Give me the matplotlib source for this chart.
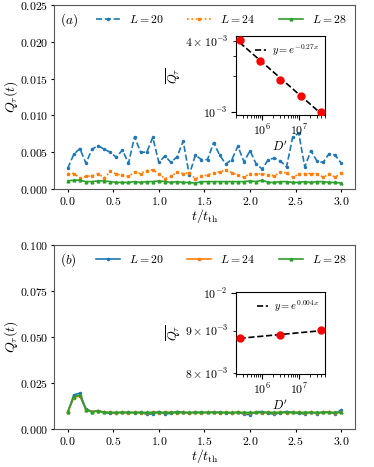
import numpy as np
import matplotlib
matplotlib.use("Agg")
import matplotlib.pyplot as plt
from matplotlib.ticker import FuncFormatter, LogFormatterSciNotation

plt.rcParams.update({
    "font.family": "serif",
    "font.serif": ["cmr10", "DejaVu Serif"],
    "mathtext.fontset": "cm",
    "axes.formatter.use_mathtext": True,
    "axes.unicode_minus": False,
    "font.size": 8.5,
})

# time grid t/t_th
t = np.linspace(0, 3, 46)

# panel (a) Q_tau(t)
qa_20 = [0.0028, 0.0047, 0.0055, 0.0035, 0.0054, 0.0059, 0.0054, 0.0050, 0.0043, 0.0053,
         0.0035, 0.0071, 0.0050, 0.0050, 0.0070, 0.0036, 0.0045, 0.0036, 0.0044, 0.0065,
         0.0019, 0.0046, 0.0040, 0.0040, 0.0063, 0.0046, 0.0034, 0.0040, 0.0058, 0.0037,
         0.0052, 0.0034, 0.0027, 0.0040, 0.0042, 0.0038, 0.0030, 0.0070, 0.0076, 0.0030,
         0.0052, 0.0038, 0.0036, 0.0048, 0.0046, 0.0035]
qa_24 = [0.0021, 0.0021, 0.0015, 0.0017, 0.0018, 0.0021, 0.0015, 0.0024, 0.0020, 0.0019,
         0.0017, 0.0023, 0.0021, 0.0025, 0.0026, 0.0021, 0.0014, 0.0017, 0.0023, 0.0021,
         0.0022, 0.0014, 0.0017, 0.0019, 0.0022, 0.0023, 0.0026, 0.0022, 0.0019, 0.0016,
         0.0021, 0.0020, 0.0021, 0.0019, 0.0018, 0.0023, 0.0022, 0.0016, 0.0020, 0.0021,
         0.0021, 0.0021, 0.0016, 0.0020, 0.0016, 0.0022]
qa_28 = [0.0011, 0.0012, 0.0012, 0.0010, 0.0010, 0.0011, 0.0011, 0.0010, 0.0009, 0.0009,
         0.0009, 0.0010, 0.0009, 0.0010, 0.0010, 0.0011, 0.0010, 0.0009, 0.0010, 0.0009,
         0.0009, 0.0008, 0.0010, 0.0010, 0.0010, 0.0010, 0.0010, 0.0010, 0.0010, 0.0010,
         0.0011, 0.0010, 0.0012, 0.0009, 0.0009, 0.0010, 0.0010, 0.0009, 0.0009, 0.0010,
         0.0009, 0.0010, 0.0010, 0.0009, 0.0009, 0.0008]

# panel (b) Q_tau(t)
qb_20 = [0.0090, 0.0185, 0.0195, 0.0110, 0.0095, 0.0100, 0.0090, 0.0085, 0.0088, 0.0090,
         0.0090, 0.0088, 0.0090, 0.0080, 0.0082, 0.0095, 0.0082, 0.0085, 0.0095, 0.0090,
         0.0088, 0.0090, 0.0090, 0.0090, 0.0092, 0.0090, 0.0088, 0.0085, 0.0093, 0.0080,
         0.0078, 0.0093, 0.0095, 0.0085, 0.0080, 0.0088, 0.0095, 0.0090, 0.0085, 0.0082,
         0.0092, 0.0083, 0.0093, 0.0092, 0.0082, 0.0105]
qb_24 = [0.0090, 0.0170, 0.0180, 0.0105, 0.0095, 0.0098, 0.0092, 0.0090, 0.0088, 0.0090,
         0.0088, 0.0090, 0.0088, 0.0088, 0.0090, 0.0088, 0.0090, 0.0090, 0.0088, 0.0090,
         0.0087, 0.0090, 0.0088, 0.0090, 0.0090, 0.0088, 0.0090, 0.0088, 0.0090, 0.0088,
         0.0086, 0.0090, 0.0088, 0.0090, 0.0088, 0.0090, 0.0088, 0.0090, 0.0090, 0.0088,
         0.0090, 0.0088, 0.0090, 0.0090, 0.0088, 0.0090]
qb_28 = [0.0090, 0.0175, 0.0185, 0.0105, 0.0092, 0.0098, 0.0090, 0.0090, 0.0090, 0.0090,
         0.0090, 0.0090, 0.0090, 0.0090, 0.0090, 0.0090, 0.0090, 0.0090, 0.0090, 0.0090,
         0.0090, 0.0090, 0.0090, 0.0090, 0.0090, 0.0090, 0.0090, 0.0090, 0.0090, 0.0090,
         0.0090, 0.0090, 0.0090, 0.0090, 0.0090, 0.0090, 0.0090, 0.0090, 0.0090, 0.0090,
         0.0090, 0.0090, 0.0090, 0.0090, 0.0090, 0.0090]

# insets: time-averaged Q_tau vs D'
dim_a = [2.5e5, 8.8e5, 3.0e6, 1.1e7, 4.0e7]
qbar_a = [4.05e-3, 2.68e-3, 1.88e-3, 1.36e-3, 1.00e-3]
dim_b = [2.5e5, 3.0e6, 4.0e7]
qbar_b = [8.82e-3, 8.88e-3, 9.01e-3]

labels = [r"$L=20$", r"$L=24$", r"$L=28$"]
colors = ["tab:blue", "tab:orange", "tab:green"]

fig = plt.figure(figsize=(3.74, 4.67), dpi=100)
ax_a = fig.add_axes([0.1444, 0.5953, 0.8046, 0.394])
ax_b = fig.add_axes([0.1444, 0.0814, 0.8046, 0.394])

styles_a = [("--", ".", 3.0), (":", "s", 1.8), ("-", "^", 2.0)]
for q, lab, c, (ls, mk, ms) in zip([qa_20, qa_24, qa_28], labels, colors, styles_a):
    ax_a.plot(t, q, ls=ls, marker=mk, ms=ms, color=c, lw=1.2, label=lab)
for q, lab, c, (_, mk, ms) in zip([qb_20, qb_24, qb_28], labels, colors, styles_a):
    ax_b.plot(t, q, ls="-", marker=mk, ms=ms, color=c, lw=1.2, label=lab)

ax_a.set_ylim(0, 0.025)
ax_a.set_yticks([0, 0.005, 0.010, 0.015, 0.020, 0.025])
ax_b.set_ylim(0, 0.1)
ax_b.set_yticks([0, 0.025, 0.05, 0.075, 0.1])
for ax, tag in [(ax_a, r"$(a)$"), (ax_b, r"$(b)$")]:
    ax.set_xticks([0, 0.5, 1.0, 1.5, 2.0, 2.5, 3.0])
    ax.set_xlabel(r"$t/t_{\rm th}$", fontsize=10)
    ax.set_ylabel(r"$Q_\tau(t)$", fontsize=10)
    ax.xaxis.set_label_coords(0.5, -0.1)
    ax.yaxis.set_label_coords(-0.112, 0.5)
    ax.yaxis.set_major_formatter(FuncFormatter(lambda v, p: r"$%.3f$" % v))
    ax.xaxis.set_major_formatter(FuncFormatter(lambda v, p: r"$%.1f$" % v))
    ax.tick_params(labelsize=8.5, length=2.5, pad=1.5)
    ax.legend(loc="upper right", ncol=3, frameon=False, fontsize=8.5,
              borderaxespad=0.3)
    ax.text(0.02, 0.965, tag, transform=ax.transAxes, ha="left", va="top",
            fontsize=9.5)
    for s in ax.spines.values():
        s.set_color("0.35")

# insets
ins_a = fig.add_axes([0.631, 0.7537, 0.238, 0.169])
ins_b = fig.add_axes([0.631, 0.1998, 0.238, 0.1756])

for ins, d, qb, lab in [(ins_a, dim_a, qbar_a, r"$y=e^{-0.27x}$"),
                        (ins_b, dim_b, qbar_b, r"$y=e^{0.004x}$")]:
    p = np.polyfit(np.log10(d), np.log10(qb), 1)
    fit = 10 ** np.polyval(p, np.log10(d))
    ins.plot(d, fit, "k--", lw=1.2, label=lab, zorder=2)
    ins.plot(d, qb, "o", color="red", ms=5, zorder=3)
    ins.set_xscale("log")
    ins.set_yscale("log")
    ins.set_xlim(2.0e5, 5.0e7)
    ins.set_xticks([1e6, 1e7])
    ins.set_xlabel(r"$D'$", fontsize=9, labelpad=1)
    ins.set_ylabel(r"$\overline{Q_\tau}$", fontsize=9, labelpad=1)
    ins.legend(loc="upper right", frameon=False, fontsize=7.5, handlelength=1.0,
               borderaxespad=0.2, handletextpad=0.6)
    ins.tick_params(labelsize=8.5, pad=2.5)

ins_a.set_ylim(9.45e-4, 4.39e-3)
ins_b.set_ylim(7.98e-3, 1.0035e-2)

# only 4x10^-3 is labelled among the minor ticks of inset (a)
sci = LogFormatterSciNotation(labelOnlyBase=False)
sci.set_axis(ins_a.yaxis)
ins_a.yaxis.set_minor_formatter(
    FuncFormatter(lambda v, p: sci(v) if abs(v - 4e-3) < 1e-5 else ""))

fig.savefig("out.png", dpi=100)
